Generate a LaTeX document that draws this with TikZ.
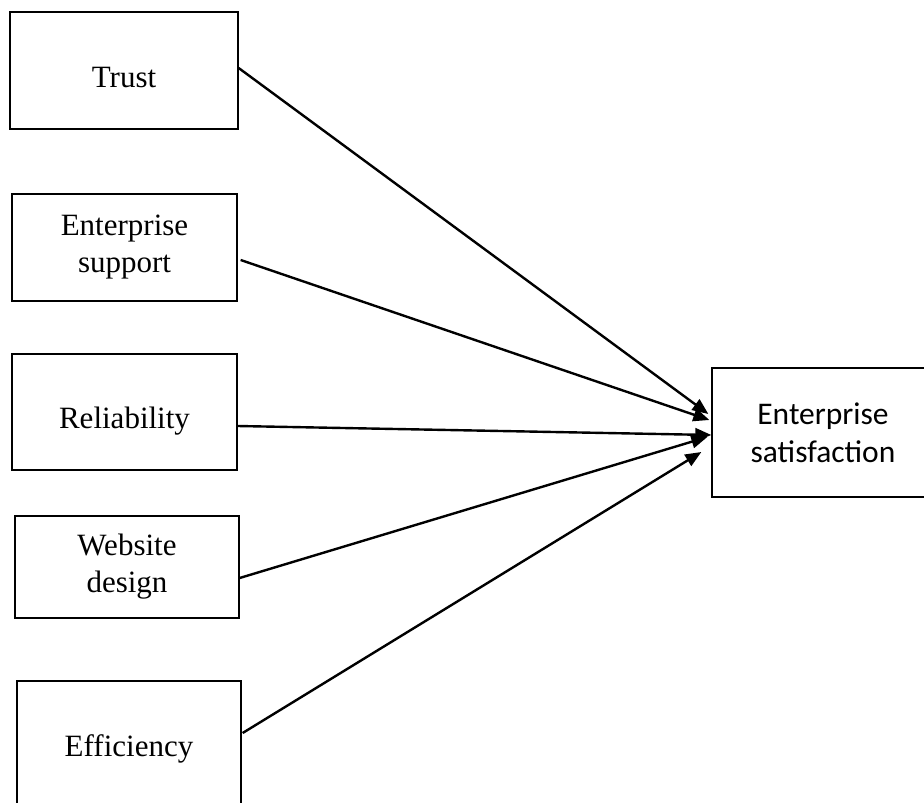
\documentclass[tikz,border=0pt]{standalone}
\usepackage{fontspec}
\setmainfont{Liberation Serif}
\newfontfamily\calfont{Carlito}
\usetikzlibrary{arrows.meta}
\begin{document}
\begin{tikzpicture}[x=1pt,y=-1pt,
  factor/.style={draw=black,line width=1.3pt,rectangle,inner sep=0pt,
    align=center,font=\fontsize{31}{37}\selectfont},
  caption/.style={inner sep=0pt,align=center,font=\fontsize{31}{37}\selectfont},
  outcome/.style={draw=black,line width=1.3pt,rectangle,inner sep=0pt,
    align=center,font=\calfont\fontsize{31.5}{38}\selectfont},
  link/.style={line width=2.4pt,-{Triangle[length=16pt,width=13pt]}}]
\useasboundingbox (0,0) rectangle (924,803);
\begin{scope}
\clip (0,0) rectangle (924,803);
% predictor boxes
\node[factor,minimum width=228pt,minimum height=117pt] (trust) at (124,70.5) {};
\node[caption] (trustlabel) at ([yshift=-7pt]trust.center) {Trust};
\node[factor,minimum width=225pt,minimum height=107pt] (es) at (124.5,247.5) {Enterprise\\support};
\node[factor,minimum width=225pt,minimum height=116pt] (rel) at (124.5,412) {};
\node[caption] (rellabel) at ([yshift=-9pt]rel.center) {Reliability};
\node[factor,minimum width=224pt,minimum height=102pt] (web) at (127,567) {Website\\design};
\node[factor,minimum width=224pt,minimum height=129pt] (eff) at (129,745.5) {};
\node[caption] (efflabel) at ([yshift=-3pt]eff.center) {Efficiency};
% outcome box
\node[outcome,minimum width=222pt,minimum height=129pt] (sat) at (823,432.5) {Enterprise\\satisfaction};
\end{scope}
% paths into the outcome
\draw[link] ([yshift=2.5pt]trust.east) -- ([xshift=-3pt,yshift=18.5pt]sat.west);
\draw[link] ([xshift=3pt,yshift=-12.5pt]es.east) -- ([xshift=-2pt,yshift=12.5pt]sat.west);
\draw[link] ([yshift=-14pt]rel.east) -- ([yshift=-2.5pt]sat.west);
\draw[link] ([yshift=-11pt]web.east) -- ([xshift=-4pt,yshift=-4.5pt]sat.west);
\draw[link] ([xshift=1pt,yshift=12.5pt]eff.east) -- ([xshift=-10pt,yshift=-19.5pt]sat.west);
\end{tikzpicture}
\end{document}
